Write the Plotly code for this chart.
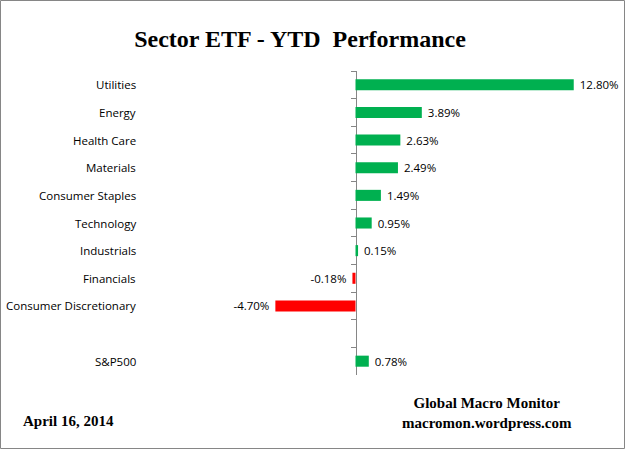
import plotly.graph_objects as go

# data
sectors = ["Utilities", "Energy", "Health Care", "Materials", "Consumer Staples",
           "Technology", "Industrials", "Financials", "Consumer Discretionary",
           " ", "S&P500"]
ytd_pct = [12.80, 3.89, 2.63, 2.49, 1.49, 0.95, 0.15, -0.18, -4.70, None, 0.78]

title_text = "Sector ETF - YTD\u00a0 Performance"
date_text = "April 16, 2014"
source_lines = ["Global Macro Monitor", "macromon.wordpress.com"]

GREEN = "#00B050"
RED = "#FF0000"
AXIS_GREY = "#868686"

W, H = 625, 450
ML, MR, MT, MB = 140, 20, 71, 75
PW = W - ML - MR
PH = H - MT - MB


def px_x(px):
    return (px - ML) / PW


def px_y(py):
    return (H - MB - py) / PH


ZERO_PX = 355.5
SCALE = 17.05  # pixels per percent point
x_range = [-(ZERO_PX - ML) / SCALE, (W - MR - ZERO_PX) / SCALE]

colors = [GREEN if (v is not None and v >= 0) else RED for v in ytd_pct]
# non-breaking spaces keep the labels a little away from the bar ends
labels = []
for v in ytd_pct:
    if v is None:
        labels.append("")
    elif v >= 0:
        labels.append(f"\u00a0{v:.2f}%")
    else:
        labels.append(f"{v:.2f}%\u00a0")

fig = go.Figure(go.Bar(
    x=ytd_pct, y=sectors, orientation="h",
    marker=dict(color=colors, line=dict(width=0)),
    text=labels, textposition="outside", cliponaxis=False,
    constraintext="none",
    textfont=dict(family="Open Sans", size=11.5, color="black"),
    hoverinfo="skip",
))

annotations = []
for name in sectors:
    if not name.strip():
        continue
    annotations.append(dict(
        x=px_x(138), xref="paper", y=name, yref="y", xanchor="right",
        text=name, showarrow=False,
        font=dict(family="Open Sans", size=11.5, color="black"),
    ))

serif_bold = dict(family="Liberation Serif", size=15, color="black", weight="bold")
annotations.append(dict(
    x=px_x(21), y=px_y(421), xref="paper", yref="paper", xanchor="left",
    yanchor="middle", text=date_text, showarrow=False, font=serif_bold,
))
annotations.append(dict(
    x=px_x(487), y=px_y(413), xref="paper", yref="paper", xanchor="center",
    yanchor="middle", text="<br>".join(source_lines), showarrow=False,
    font=serif_bold,
))

fig.update_layout(
    width=W, height=H,
    margin=dict(l=ML, r=MR, t=MT, b=MB),
    paper_bgcolor="white", plot_bgcolor="white",
    showlegend=False,
    bargap=0.6,
    title=dict(text=title_text, x=300 / W, y=1 - 39 / H, xref="container",
               yref="container", xanchor="center", yanchor="middle",
               font=dict(family="Liberation Serif", size=24, color="black",
                         weight="bold")),
    xaxis=dict(visible=False, range=x_range, fixedrange=True),
    yaxis=dict(
        type="category", categoryorder="array", categoryarray=sectors,
        autorange="reversed", anchor="free", position=px_x(ZERO_PX),
        showline=True, linecolor=AXIS_GREY, linewidth=1, layer="below traces",
        ticks="outside", tickson="boundaries", ticklen=5, tickcolor=AXIS_GREY,
        showticklabels=False, showgrid=False, zeroline=False,
    ),
    annotations=annotations,
    shapes=[dict(type="rect", xref="paper", yref="paper",
                 x0=px_x(0.5), x1=px_x(624.5), y0=px_y(0.5), y1=px_y(448.5),
                 line=dict(color=AXIS_GREY, width=1))],
)

# the page is photographed at exactly the figure size, so drop the body margin
fig.write_html("out.html", config={"displayModeBar": False},
               post_script="document.body.style.margin='0';")
